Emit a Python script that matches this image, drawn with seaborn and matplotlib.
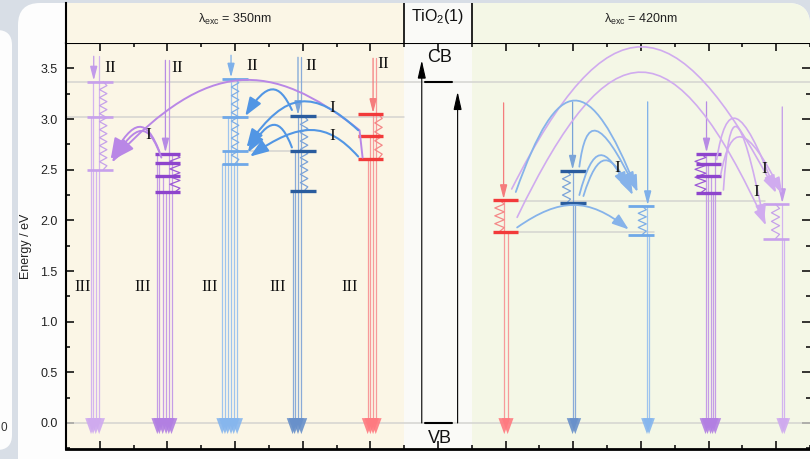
import numpy as np
import matplotlib
matplotlib.use("Agg")
import matplotlib.pyplot as plt
import seaborn as sns
from matplotlib.patches import FancyArrowPatch, FancyBboxPatch
from matplotlib.path import Path
from matplotlib.ticker import MultipleLocator, FormatStrFormatter

sns.set_theme(style="ticks")
plt.rcParams['font.family'] = ['Liberation Sans', 'DejaVu Sans']
plt.rcParams['mathtext.fontset'] = 'custom'
plt.rcParams['mathtext.rm'] = 'Liberation Sans'

# ---------------------------------------------------------------- data
# column positions (6 = TiO2 reference)
col_x = [1, 2, 3, 4, 5, 7, 8, 9, 10, 11]

# energy levels of every column (eV)
lv_c1 = [3.37, 3.02, 2.50]
lv_c2 = [2.66, 2.57, 2.44, 2.28]
lv_c3 = [3.40, 3.02, 2.68, 2.56]
lv_c4 = [3.03, 2.68, 2.29]
lv_c5 = [3.05, 2.83, 2.61]
lv_c7 = [2.20, 1.89]
lv_c8 = [2.49, 2.17]
lv_c9 = [2.14, 1.86]
lv_c10 = [2.66, 2.56, 2.44, 2.27]
lv_c11 = [2.16, 1.82]

# TiO2 band edges (eV)
tio2_cb = 3.37
tio2_vb = 0.0
tio2_arrow_top = [3.58, 3.27]
tio2_arrow_x = [5.76, 6.29]

# excitation arrows (II): start energy and x offset
pump_top = [3.62, 3.58, 3.63, 3.61, 3.60, 3.16, 3.17, 3.17, 3.17, 3.12]
pump_dx = [-0.09, -0.03, -0.06, -0.07, 0.04, -0.03, -0.01, 0.10, -0.03, 0.09]

# radiative decays (III): x offsets and start energies
dec_dx_c1 = [-0.13, -0.10, -0.06, -0.01]
dec_from_c1 = [3.02, 3.37, 2.50, 3.62]
dec_dx_c2 = [-0.15, -0.12, -0.07, -0.02, 0.02, 0.06]
dec_from_c2 = [2.66, 2.57, 2.44, 2.28, 3.58, 2.66]
dec_dx_c3 = [-0.19, -0.15, -0.11, -0.06, -0.02, 0.03]
dec_from_c3 = [2.56, 2.68, 3.02, 3.40, 2.56, 3.40]
dec_dx_c4 = [-0.15, -0.12, -0.07, -0.02]
dec_from_c4 = [2.29, 2.68, 3.03, 3.61]
dec_dx_c5 = [-0.04, 0.0, 0.04, 0.08]
dec_from_c5 = [2.61, 2.83, 3.05, 3.60]
dec_dx_c7 = [-0.02, 0.03]
dec_from_c7 = [2.20, 1.89]
dec_dx_c8 = [-0.01, 0.03]
dec_from_c8 = [2.49, 2.17]
dec_dx_c9 = [0.09, 0.12]
dec_from_c9 = [2.14, 1.86]
dec_dx_c10 = [-0.045, -0.015, 0.03, 0.06, 0.10]
dec_from_c10 = [2.66, 2.56, 2.44, 2.27, 2.66]
dec_dx_c11 = [0.09, 0.12]
dec_from_c11 = [2.16, 1.82]

# relaxation zig-zags: x offset and half width
zig_dx = [0.05, 0.11, 0.0, 0.02, 0.12, -0.09, -0.10, 0.02, -0.12, -0.01]
zig_amp = [0.055, 0.075, 0.055, 0.055, 0.055, 0.07, 0.06, 0.06, 0.08, 0.06]

# energy-transfer arrows (I): start, apex, end  (x, eV)
arc_start = [(1.88, 2.68), (1.91, 2.62), (4.84, 2.89),
             (3.84, 3.09), (4.82, 2.89), (3.84, 2.72), (4.82, 2.63),
             (7.09, 2.31), (7.17, 2.03),
             (7.15, 2.28), (8.09, 2.53), (8.09, 2.25), (8.15, 2.24), (7.17, 1.93),
             (10.12, 2.60), (10.18, 2.45), (10.22, 2.30)]
arc_apex = [(1.62, 2.92), (1.66, 2.88), (3.07, 3.38),
            (3.58, 3.29), (3.95, 3.17), (3.61, 2.94), (4.20, 2.89),
            (8.99, 3.71), (9.02, 3.46),
            (8.00, 3.18), (8.22, 2.88), (8.36, 2.64), (8.44, 2.59), (8.02, 2.15),
            (10.31, 3.00), (10.38, 2.82), (10.34, 2.92)]
arc_end = [(1.16, 2.60), (1.18, 2.57), (1.20, 2.60),
           (3.15, 3.03), (3.17, 2.72), (3.19, 2.67), (3.22, 2.63),
           (11.00, 2.27), (10.85, 1.95),
           (8.95, 2.28), (8.92, 2.31), (8.80, 2.31), (8.88, 2.25), (8.82, 1.91),
           (10.99, 2.28), (11.09, 2.26), (10.82, 1.99)]
arc_kind = ['pl', 'pl', 'pl', 'bl', 'bl', 'bl', 'bl',
            'pr', 'pr', 'br', 'br', 'br', 'br', 'br', 'pr', 'pr', 'pr']

# text labels
lab_II_x = [1.15, 2.15, 3.25, 4.12, 5.19]
lab_II_e = [3.50, 3.50, 3.52, 3.52, 3.54]
lab_III_x = [0.75, 1.64, 2.62, 3.63, 4.69]
lab_III_e = 1.34
lab_I_x = [1.71, 4.43, 4.43, 8.65, 10.82, 10.70]
lab_I_e = [2.84, 3.11, 2.83, 2.52, 2.51, 2.28]

# grey guide lines: energy, x from, x to
guide_e = [3.37, 3.02, 2.68, 2.19, 1.89, 0.0]
guide_x0 = [0.5, 0.5, 3.18, 7.19, 7.19, 0.5]
guide_x1 = [11.5, 5.5, 4.20, 10.83, 9.20, 11.5]

# ---------------------------------------------------------------- styles
levels = [lv_c1, lv_c2, lv_c3, lv_c4, lv_c5, lv_c7, lv_c8, lv_c9, lv_c10, lv_c11]
dec_dx = [dec_dx_c1, dec_dx_c2, dec_dx_c3, dec_dx_c4, dec_dx_c5,
          dec_dx_c7, dec_dx_c8, dec_dx_c9, dec_dx_c10, dec_dx_c11]
dec_from = [dec_from_c1, dec_from_c2, dec_from_c3, dec_from_c4, dec_from_c5,
            dec_from_c7, dec_from_c8, dec_from_c9, dec_from_c10, dec_from_c11]

LP, DP, LB, DB, RD = 0, 1, 2, 3, 4
col_style = [LP, DP, LB, DB, RD, RD, DB, LB, DP, LP]
level_color = ['#C7A0EC', '#8E45CC', '#6FA8E8', '#2A5C9E', '#F23A3A']
level_lw = [1.9, 2.4, 2.0, 2.4, 2.4]
line_color = ['#D3B4EF', '#C59DE6', '#9EC4EE', '#8AABD8', '#F79A9A']
zig_color = ['#C6A2EA', '#9D5AD6', '#7EAEE6', '#7BA3D8', '#F58888']
head_color = ['#CFAAEF', '#B27FE2', '#86B6EE', '#6890CA', '#FF7A80']
pump_color = ['#C29AEA', '#B78BE4', '#7DB0EA', '#7AA4D8', '#F57C7C']

arc_color = {'pl': '#B987E6', 'bl': '#5296E4', 'pr': '#D0ABEF', 'br': '#86B3EA'}
arc_lw = {'pl': 1.4, 'bl': 1.5, 'pr': 1.2, 'br': 1.3}
arc_head = {'pl': (1.3, 0.45), 'bl': (1.1, 0.4), 'pr': (1.0, 0.32), 'br': (1.0, 0.35)}

bg_left, bg_mid, bg_right = '#FBF6E6', '#FAFAF7', '#F4F7E6'
guide_color = '#D4D4D0'

W, H = 810, 459
fig = plt.figure(figsize=(W / 100, H / 100), dpi=100)
fig.patch.set_facecolor('#D8DEE6')

# window panels
panel = FancyBboxPatch((0.18, -0.5), 7.92, 5.06, boxstyle='round,pad=0,rounding_size=0.22',
                       transform=fig.dpi_scale_trans, facecolor='#FDFDFD', edgecolor='none', zorder=-5)
fig.add_artist(panel)
side = FancyBboxPatch((-0.4, 0.09), 0.52, 4.2, boxstyle='round,pad=0,rounding_size=0.15',
                      transform=fig.dpi_scale_trans, facecolor='#FDFDFD', edgecolor='none', zorder=-5)
fig.add_artist(side)
fig.text(0.001, 1 - 428 / H, '0', fontsize=8.5, color='#333333', ha='left', va='center')

ax = fig.add_axes([66 / W, 10 / H, 744 / W, 406 / H])
hd = fig.add_axes([66 / W, 416 / H, 744 / W, 40 / H])

for a in (ax, hd):
    a.set_xlim(0.5, 11.5)
    a.patch.set_visible(False)
    for x0, x1, c in [(0.5, 5.5, bg_left), (5.5, 6.5, bg_mid), (6.5, 11.5, bg_right)]:
        sp = a.axvspan(x0, x1, color=c, lw=0, zorder=0)
        sp.set_clip_path(panel)

# header
hd.set_ylim(0, 1)
hd.set_xticks([])
hd.set_yticks([])
for s in ['top', 'right', 'bottom']:
    hd.spines[s].set_visible(False)
hd.spines['left'].set_linewidth(1.5)
hd.spines['left'].set_color('black')
for xv in (5.5, 6.5):
    hd.axvline(xv, color='black', lw=1.2, zorder=3)
hd.text(3.0, 0.6, 'λ$_{\\mathregular{exc}}$ = 350nm', ha='center', va='center', fontsize=9, color='#222222')
hd.text(6.0, 0.66, 'TiO$_2$(1)', ha='center', va='center', fontsize=11.5, color='#111111')
hd.text(9.0, 0.6, 'λ$_{\\mathregular{exc}}$ = 420nm', ha='center', va='center', fontsize=9, color='#222222')

# main axes
ax.set_ylim(-0.257, 3.751)
for s in ['left', 'top']:
    ax.spines[s].set_linewidth(1.5)
    ax.spines[s].set_color('black')
ax.spines['bottom'].set_linewidth(2.0)
ax.spines['bottom'].set_color('black')
ax.spines['right'].set_visible(False)
ax.xaxis.set_major_locator(MultipleLocator(1))
ax.xaxis.set_minor_locator(MultipleLocator(0.5))
ax.yaxis.set_major_locator(MultipleLocator(0.5))
ax.yaxis.set_minor_locator(MultipleLocator(0.25))
ax.yaxis.set_major_formatter(FormatStrFormatter('%.1f'))
ax.tick_params(which='both', direction='in', top=True, bottom=True, left=True, right=True,
               labelbottom=False, color='black', width=1.1)
ax.tick_params(which='major', length=6, labelsize=9, pad=6, labelcolor='#222222')
ax.tick_params(which='minor', length=3)
ax.set_ylabel('Energy / eV', fontsize=9, labelpad=6, color='#222222')
ax.grid(False)

# guide lines
for e, x0, x1 in zip(guide_e, guide_x0, guide_x1):
    ax.plot([x0, x1], [e, e], color=guide_color, lw=1.1, zorder=1)


def arrow(p0, p1, color, lw, hl, hw, z=4, alpha=1.0):
    ap = FancyArrowPatch(p0, p1, arrowstyle=f'-|>,head_length={hl},head_width={hw}',
                         mutation_scale=10, color=color, lw=lw, shrinkA=0, shrinkB=0,
                         zorder=z, alpha=alpha, joinstyle='miter')
    ax.add_patch(ap)


def curved(p0, apex, p2, color, lw, hl, hw, pre=None, k=0.75, z=6):
    x0, y0 = p0
    x2, y2 = p2
    xa, ea = apex
    h = (ea - 0.125 * (y0 + y2)) / 0.75
    c1 = (x0 + k * (xa - x0), h)
    c2 = (x2 + k * (xa - x2), h)
    verts = [p0, c1, c2, p2]
    codes = [Path.MOVETO, Path.CURVE4, Path.CURVE4, Path.CURVE4]
    if pre is not None:
        verts = [pre] + verts
        codes = [Path.MOVETO, Path.LINETO] + codes[1:]
    ap = FancyArrowPatch(path=Path(verts, codes),
                         arrowstyle=f'-|>,head_length={hl},head_width={hw}',
                         mutation_scale=10, color=color, lw=lw, zorder=z)
    ax.add_patch(ap)


def zigzag(xc, e_hi, e_lo, amp, color, lw=0.9):
    n = max(3, int(round((e_hi - e_lo) / 0.08)))
    ys = np.linspace(e_hi, e_lo, 2 * n + 1)
    sgn = np.array([0] + [1 if i % 2 else -1 for i in range(1, 2 * n)] + [0])
    ax.plot(xc + amp * sgn, ys, color=color, lw=lw, zorder=3)


for i, xc in enumerate(col_x):
    st = col_style[i]
    lv = levels[i]
    # radiative decay to the ground state
    for dx, e0 in zip(dec_dx[i], dec_from[i]):
        ax.plot([xc + dx, xc + dx], [e0, 0.02], color=line_color[st], lw=0.9, zorder=2)
        arrow((xc + dx, 0.08), (xc + dx, -0.11), head_color[st], 0.0, 1.15, 0.42, z=3, alpha=0.9)
    # excitation
    arrow((xc + pump_dx[i], pump_top[i]), (xc + pump_dx[i], lv[0] + 0.01), pump_color[st],
          0.9, 0.85, 0.22, z=4)
    # vibrational relaxation
    zigzag(xc + zig_dx[i], max(lv), min(lv), zig_amp[i], zig_color[st])
    # levels
    for e in lv:
        ax.plot([xc - 0.19, xc + 0.19], [e, e], color=level_color[st], lw=level_lw[st],
                solid_capstyle='butt', zorder=5)

# TiO2 bands
for e in (tio2_cb, tio2_vb):
    ax.plot([5.81, 6.2], [e, e], color='black', lw=1.5, zorder=5)
for xv, top in zip(tio2_arrow_x, tio2_arrow_top):
    arrow((xv, tio2_vb), (xv, top), 'black', 0.8, 1.1, 0.25, z=5)
ax.text(6.03, 3.61, 'CB', fontsize=13, ha='center', va='center', color='#111111')
ax.text(6.03, -0.15, 'VB', fontsize=13, ha='center', va='center', color='#111111')

# energy-transfer arrows
for i, (p0, apx, p2, kind) in enumerate(zip(arc_start, arc_apex, arc_end, arc_kind)):
    hl, hw = arc_head[kind]
    pre = (4.885, 2.62) if i == 2 else None
    curved(p0, apx, p2, arc_color[kind], arc_lw[kind], hl, hw, pre=pre)

# labels
serif = ['Liberation Serif', 'DejaVu Serif']
for x, e in zip(lab_II_x, lab_II_e):
    ax.text(x, e, 'II', family=serif, fontsize=12.5, ha='center', va='center', color='#111111', zorder=8)
for x in lab_III_x:
    ax.text(x, lab_III_e, 'III', family=serif, fontsize=12, ha='center', va='center', color='#111111', zorder=8)
for x, e in zip(lab_I_x, lab_I_e):
    ax.text(x, e, 'I', family=serif, fontsize=12.5, ha='center', va='center', color='#111111', zorder=8)

fig.savefig('out.png', dpi=100, facecolor=fig.get_facecolor())
